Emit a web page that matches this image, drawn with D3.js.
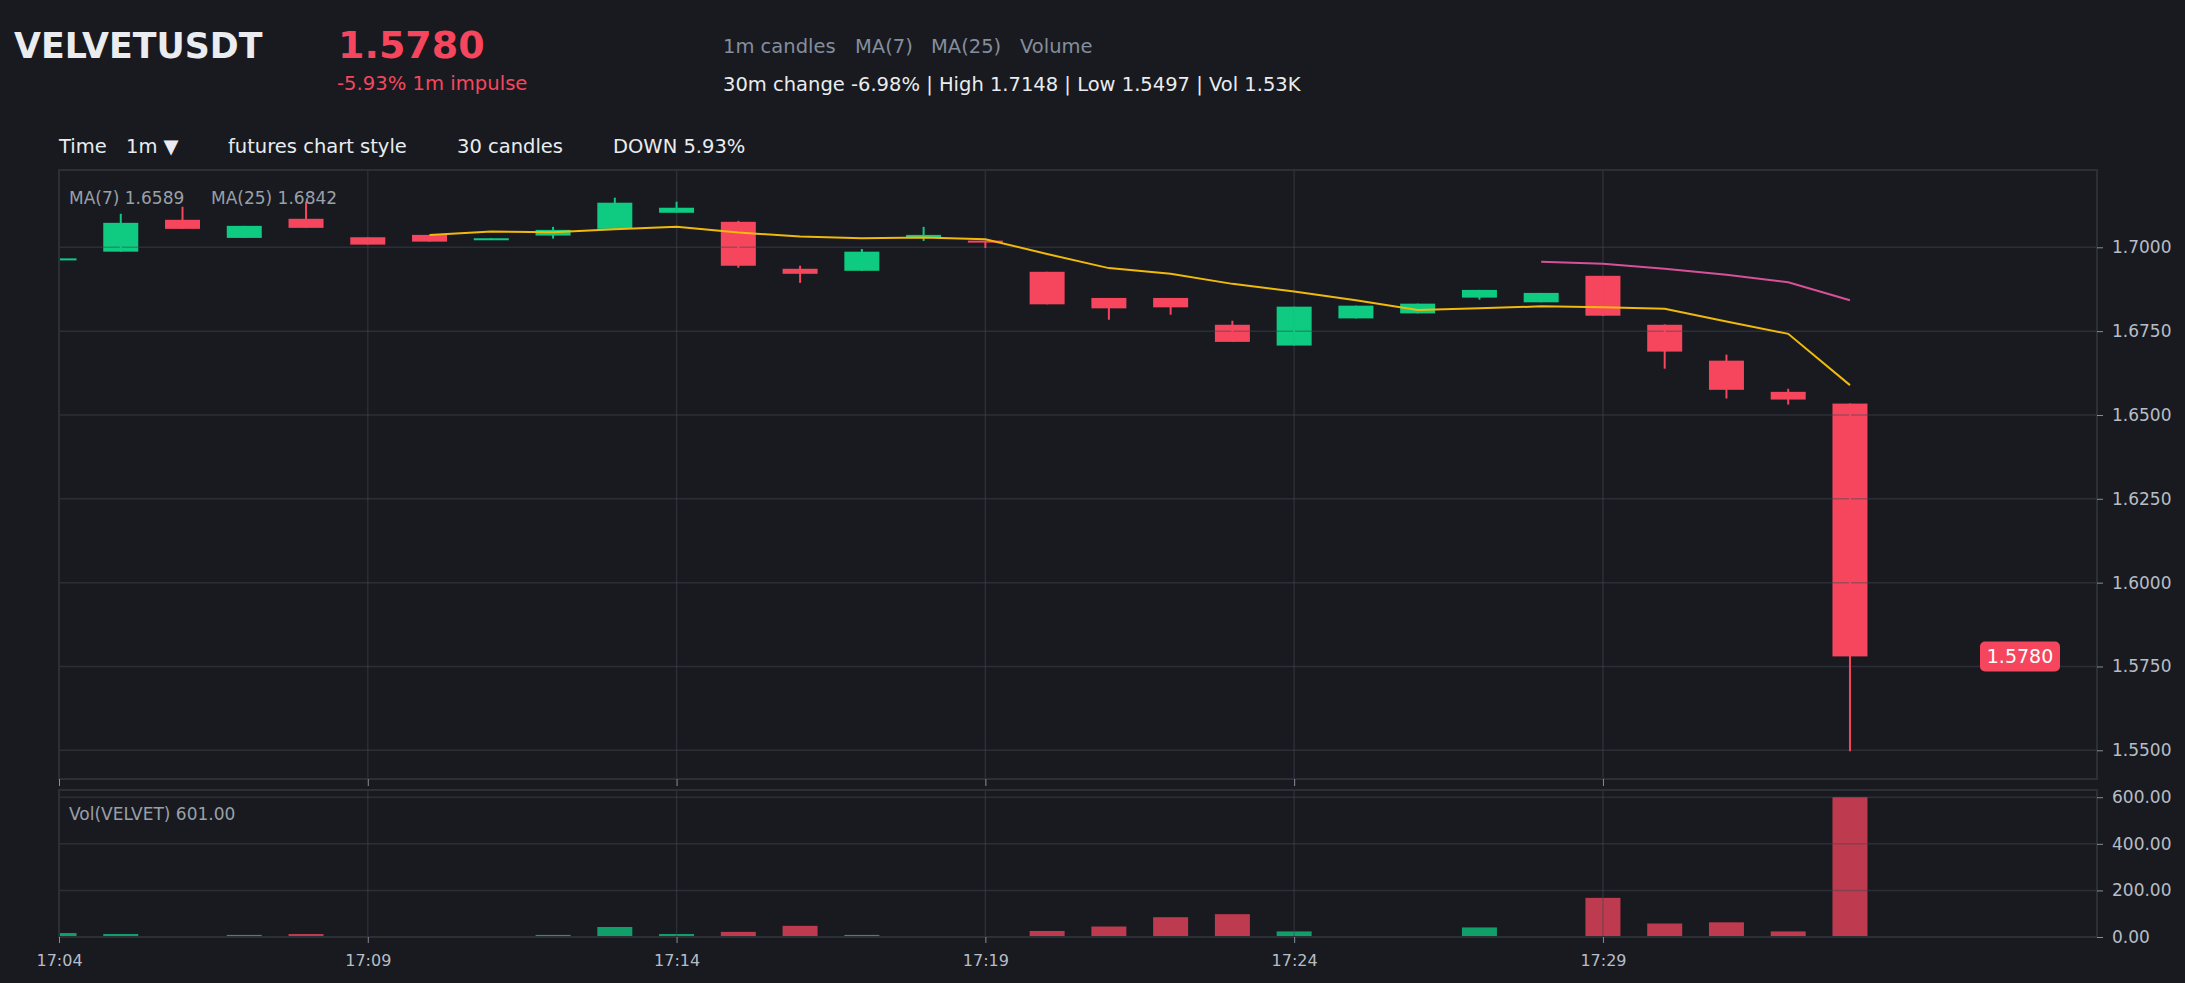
<!DOCTYPE html>
<html>
<head>
<meta charset="utf-8">
<script src="https://cdn.jsdelivr.net/npm/d3@7"></script>
<style>
  html, body { margin: 0; padding: 0; background: #181a20; }
  svg { display: block; font-family: "DejaVu Sans", sans-serif; }
</style>
</head>
<body>
<svg id="chart" width="2185" height="983"></svg>
<script>
//Candle data, 1m, 17:04 - 17:33
var times = ["17:04","17:05","17:06","17:07","17:08","17:09","17:10","17:11","17:12","17:13",
             "17:14","17:15","17:16","17:17","17:18","17:19","17:20","17:21","17:22","17:23",
             "17:24","17:25","17:26","17:27","17:28","17:29","17:30","17:31","17:32","17:33"];
var opens  = [1.6964,1.6987,1.7082,1.7028,1.7085,1.7030,1.7037,1.7024,1.7035,1.7055,
              1.7103,1.7076,1.6936,1.6930,1.7028,1.7020,1.6927,1.6849,1.6849,1.6769,
              1.6707,1.6788,1.6803,1.6850,1.6836,1.6915,1.6769,1.6662,1.6569,1.6534];
var highs  = [1.6967,1.7100,1.7121,1.7064,1.7136,1.7030,1.7037,1.7027,1.7061,1.7148,
              1.7136,1.7079,1.6945,1.6995,1.7061,1.7020,1.6927,1.6849,1.6849,1.6781,
              1.6823,1.6826,1.6832,1.6873,1.6864,1.6915,1.6770,1.6680,1.6578,1.6534];
var lows   = [1.6964,1.6987,1.7055,1.7028,1.7058,1.7008,1.7017,1.7024,1.7026,1.7055,
              1.7103,1.6939,1.6894,1.6930,1.7019,1.6998,1.6830,1.6784,1.6799,1.6718,
              1.6707,1.6788,1.6803,1.6844,1.6836,1.6795,1.6638,1.6549,1.6531,1.5497];
var closes = [1.6967,1.7073,1.7055,1.7064,1.7058,1.7008,1.7017,1.7027,1.7052,1.7133,
              1.7118,1.6945,1.6921,1.6987,1.7037,1.7014,1.6830,1.6818,1.6821,1.6718,
              1.6823,1.6826,1.6832,1.6873,1.6864,1.6796,1.6689,1.6575,1.6546,1.5780];
var volumes = [17,13,2,9,13,1,1,1,9,43,
               13,22,48,9,2,1,26,45,85,98,
               24,1,3,41,2,168,58,63,24,601];
var ma7  = [null,null,null,null,null,null,1.7037,1.7047,1.7045,1.7054,
            1.7061,1.7044,1.7032,1.7027,1.7029,1.7024,1.6980,1.6938,1.6921,1.6891,
            1.6868,1.6842,1.6813,1.6818,1.6824,1.6821,1.6817,1.6779,1.6742,1.6589];
var ma25 = [null,null,null,null,null,null,null,null,null,null,
            null,null,null,null,null,null,null,null,null,null,
            null,null,null,null,1.6957,1.6951,1.6936,1.6918,1.6896,1.6842];
var priceTicks = [1.55,1.575,1.60,1.625,1.65,1.675,1.70];
var volTicks = [0,200,400,600];

var upColor = "#0ecb81";
var downColor = "#f6465d";
var gridColor = "rgba(66,72,82,0.45)";
var borderColor = "#2b2f36";
var axisText = "#b7bdc6";

var candles = times.map(function (t, i) {
    return {i: i, t: t, o: opens[i], h: highs[i], l: lows[i], c: closes[i], v: volumes[i]};
});

var svg = d3.select("#chart");
svg.append("rect").attr("width", 2185).attr("height", 983).attr("fill", "#181a20");

//Panel geometry
var left = 59, right = 2097;
var mainTop = 170, mainBottom = 779;
var volTop = 790, volBottom = 937;

var lo = d3.min(lows), hi = d3.max(highs);
var pad = (hi - lo) * 0.05;

var x = d3.scaleLinear().domain([0, 33]).range([left, right]);
var y = d3.scaleLinear().domain([lo - pad, hi + pad]).range([mainBottom, mainTop]);
var yv = d3.scaleLinear().domain([0, d3.max(volumes) * 1.05]).range([volBottom, volTop]);
var bodyW = 35;
var tickIdx = candles.filter(function (d) { return d.i % 5 === 0; }).map(function (d) { return d.i; });

var defs = svg.append("defs");
defs.append("clipPath").attr("id", "clip-main").append("rect")
    .attr("x", left).attr("y", mainTop).attr("width", right - left).attr("height", mainBottom - mainTop);
defs.append("clipPath").attr("id", "clip-vol").append("rect")
    .attr("x", left).attr("y", volTop).attr("width", right - left).attr("height", volBottom - volTop);

//Header
var header = svg.append("g");
header.append("text").attr("x", 14).attr("y", 58).text("VELVETUSDT")
    .attr("font-size", "34.8px").attr("font-weight", "bold").attr("fill", "#eaecef");
header.append("text").attr("x", 338).attr("y", 58).text("1.5780")
    .attr("font-size", "38px").attr("font-weight", "bold").attr("fill", downColor);
header.append("text").attr("x", 337).attr("y", 90).text("-5.93% 1m impulse")
    .attr("font-size", "19.6px").attr("fill", downColor);
var legendItems = [["1m candles", 723], ["MA(7)", 855], ["MA(25)", 931], ["Volume", 1020]];
legendItems.forEach(function (d) {
    header.append("text").attr("x", d[1]).attr("y", 53).text(d[0])
        .attr("font-size", "19.5px").attr("fill", "#848e9c");
});
header.append("text").attr("x", 723).attr("y", 91)
    .text("30m change -6.98% | High 1.7148 | Low 1.5497 | Vol 1.53K")
    .attr("font-size", "19.5px").attr("fill", "#eaecef");
var toolItems = [["Time", 59], ["1m \u25BC", 126], ["futures chart style", 228], ["30 candles", 457], ["DOWN 5.93%", 613]];
toolItems.forEach(function (d) {
    header.append("text").attr("x", d[1]).attr("y", 153).text(d[0])
        .attr("font-size", "19.5px").attr("fill", "#eaecef");
});

//Main panel: bodies first, grid over them, wicks on top
var main = svg.append("g").attr("clip-path", "url(#clip-main)");

main.append("g").selectAll("rect")
    .data(candles)
    .enter().append("rect")
    .attr("x", function (d) { return x(d.i) - bodyW / 2; })
    .attr("y", function (d) { return y(Math.max(d.o, d.c)); })
    .attr("width", bodyW)
    .attr("height", function (d) { return Math.max(2, Math.abs(y(d.o) - y(d.c))); })
    .attr("fill", function (d) { return d.c >= d.o ? upColor : downColor; });

var mainGrid = main.append("g");
mainGrid.selectAll(".hg").data(priceTicks).enter().append("line")
    .attr("x1", left).attr("x2", right)
    .attr("y1", function (d) { return y(d); }).attr("y2", function (d) { return y(d); })
    .attr("stroke", gridColor).attr("stroke-width", 1.5);
mainGrid.selectAll(".vg").data(tickIdx).enter().append("line")
    .attr("x1", function (d) { return x(d); }).attr("x2", function (d) { return x(d); })
    .attr("y1", mainTop).attr("y2", mainBottom)
    .attr("stroke", gridColor).attr("stroke-width", 1.5);

main.append("g").selectAll("line")
    .data(candles)
    .enter().append("line")
    .attr("x1", function (d) { return x(d.i); })
    .attr("x2", function (d) { return x(d.i); })
    .attr("y1", function (d) { return y(d.h); })
    .attr("y2", function (d) { return y(d.l); })
    .attr("stroke", function (d) { return d.c >= d.o ? upColor : downColor; })
    .attr("stroke-width", 2);

//Moving averages
var maLine = function (arr) {
    return d3.line()
        .defined(function (d) { return d != null; })
        .x(function (d, i) { return x(i); })
        .y(function (d) { return y(d); })(arr);
};
main.append("path").attr("d", maLine(ma7))
    .attr("fill", "none").attr("stroke", "#f0b90b").attr("stroke-width", 2);
main.append("path").attr("d", maLine(ma25))
    .attr("fill", "none").attr("stroke", "#d6519a").attr("stroke-width", 2);

svg.append("rect").attr("x", left).attr("y", mainTop)
    .attr("width", right - left).attr("height", mainBottom - mainTop)
    .attr("fill", "none").attr("stroke", borderColor).attr("stroke-width", 2);

svg.append("text").attr("x", 69).attr("y", 204).text("MA(7) 1.6589")
    .attr("font-size", "17px").attr("fill", "#9aa0a8");
svg.append("text").attr("x", 211).attr("y", 204).text("MA(25) 1.6842")
    .attr("font-size", "17px").attr("fill", "#9aa0a8");

//Last price tag
var lastClose = closes[closes.length - 1];
svg.append("rect").attr("x", right - 117).attr("y", y(lastClose) - 15)
    .attr("width", 80).attr("height", 30).attr("rx", 5)
    .attr("fill", downColor);
svg.append("text").attr("x", right - 77).attr("y", y(lastClose))
    .attr("dy", "0.35em").attr("text-anchor", "middle")
    .text(d3.format(".4f")(lastClose))
    .attr("font-size", "19px").attr("fill", "#ffffff");

//Volume panel
var vol = svg.append("g").attr("clip-path", "url(#clip-vol)");
vol.append("g").selectAll("rect")
    .data(candles)
    .enter().append("rect")
    .attr("x", function (d) { return x(d.i) - bodyW / 2; })
    .attr("y", function (d) { return yv(d.v); })
    .attr("width", bodyW)
    .attr("height", function (d) { return volBottom - yv(d.v); })
    .attr("fill", function (d) { return d.c >= d.o ? upColor : downColor; })
    .attr("opacity", 0.75);

var volGrid = vol.append("g");
volGrid.selectAll(".hg").data(volTicks).enter().append("line")
    .attr("x1", left).attr("x2", right)
    .attr("y1", function (d) { return yv(d); }).attr("y2", function (d) { return yv(d); })
    .attr("stroke", gridColor).attr("stroke-width", 1.5);
volGrid.selectAll(".vg").data(tickIdx).enter().append("line")
    .attr("x1", function (d) { return x(d); }).attr("x2", function (d) { return x(d); })
    .attr("y1", volTop).attr("y2", volBottom)
    .attr("stroke", gridColor).attr("stroke-width", 1.5);

svg.append("rect").attr("x", left).attr("y", volTop)
    .attr("width", right - left).attr("height", volBottom - volTop)
    .attr("fill", "none").attr("stroke", borderColor).attr("stroke-width", 2);

svg.append("text").attr("x", 69).attr("y", 820).text("Vol(VELVET) " + d3.format(".2f")(d3.max(volumes)))
    .attr("font-size", "17px").attr("fill", "#9aa0a8");

//Axes
var styleAxis = function (g, size) {
    g.select(".domain").remove();
    g.selectAll(".tick line").attr("stroke", "#848e9c");
    g.selectAll(".tick text").attr("fill", axisText).attr("font-size", size)
        .attr("font-family", "DejaVu Sans");
};

svg.append("g").attr("transform", "translate(" + right + ",0)")
    .call(d3.axisRight(y).tickValues(priceTicks).tickSize(6).tickPadding(9).tickFormat(d3.format(".4f")))
    .call(styleAxis, "17px");

svg.append("g").attr("transform", "translate(" + right + ",0)")
    .call(d3.axisRight(yv).tickValues(volTicks).tickSize(6).tickPadding(9).tickFormat(d3.format(".2f")))
    .call(styleAxis, "17px");

svg.append("g").attr("transform", "translate(0," + mainBottom + ")")
    .call(d3.axisBottom(x).tickValues(tickIdx).tickSize(7).tickFormat(""))
    .call(styleAxis, "16px");

svg.append("g").attr("transform", "translate(0," + volBottom + ")")
    .call(d3.axisBottom(x).tickValues(tickIdx).tickSize(6).tickPadding(12)
        .tickFormat(function (i) { return times[i]; }))
    .call(styleAxis, "16px");
</script>
</body>
</html>
